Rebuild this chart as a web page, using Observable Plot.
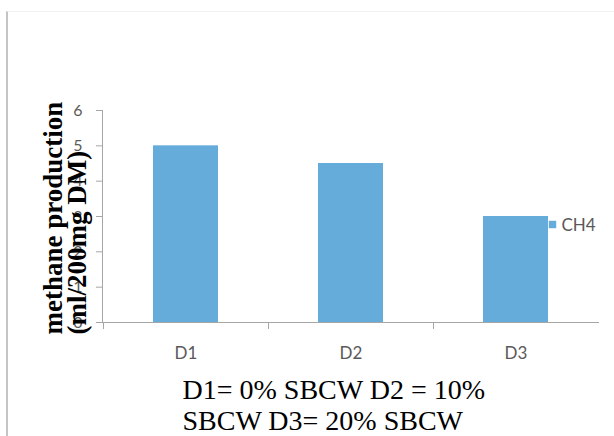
<!DOCTYPE html>
<html>
<head>
<meta charset="utf-8">
<script src="https://cdn.jsdelivr.net/npm/d3@7"></script>
<script src="https://cdn.jsdelivr.net/npm/@observablehq/plot@0.6"></script>
<style>
  html, body { margin: 0; padding: 0; background: #fff; }
  #wrap { position: relative; width: 614px; height: 436px; overflow: hidden; }
  #border { position: absolute; left: 6px; top: 11px; width: 608px; height: 430px;
            border-left: 2px solid #c4c4c4; border-top: 1px solid #f2f2f2; box-sizing: border-box; }
  #chart { position: absolute; left: 0; top: 0; }
  #chart g[aria-label="x-axis tick label"] { font-size: 17px; font-family: Lato, sans-serif; fill: #595959; }
</style>
</head>
<body>
<div id="wrap"><div id="border"></div><div id="chart"></div></div>
<script>
const categories = ["D1", "D2", "D3"];
const values = [5.0, 4.5, 3.0];
const yTicks = [0, 1, 2, 3, 4, 5, 6];
const seriesName = "CH4";
const yTitleLines = ["methane production", "(ml/200mg DM)"];
const captionLines = ["D1= 0% SBCW D2 = 10%", "SBCW D3= 20% SBCW"];

const data = categories.map((c, i) => ({cat: c, value: values[i]}));
const barColor = "#65acdb";
const axisGray = "#a6a6a6";
const labelGray = "#595959";
const half = 82.5;

const titleStyle = {frameAnchor: "bottom-left", rotate: -90, textAnchor: "start", lineAnchor: "middle",
                    dy: 12, fontSize: 27, fontWeight: "bold", fontFamily: "Liberation Serif", fill: "#000"};
const captionStyle = {frameAnchor: "bottom-left", textAnchor: "start", lineAnchor: "top", dx: 80,
                      fontSize: 28, fontFamily: "Liberation Serif", fill: "#000"};

const chart = Plot.plot({
  width: 614,
  height: 436,
  marginLeft: 102,
  marginRight: 16,
  marginTop: 110,
  marginBottom: 114,
  style: {background: "transparent", overflow: "visible"},
  x: {domain: categories, padding: 0, tickSize: 0, tickPadding: 24, label: null},
  y: {domain: [0, 6], axis: null},
  marks: [
    Plot.barY(data, {x: "cat", y: "value", fill: barColor, insetLeft: 50, insetRight: 50}),
    Plot.frame({anchor: "left", stroke: axisGray}),
    Plot.frame({anchor: "bottom", stroke: axisGray}),
    Plot.tickY(yTicks, {y: d => d, x: () => categories[0], insetLeft: -7, insetRight: 165, stroke: axisGray}),
    Plot.text(yTicks, {y: d => d, text: d => String(d), frameAnchor: "left", dx: -20, textAnchor: "end",
                       fontSize: 16, fontFamily: "Lato", fill: labelGray}),
    Plot.ruleX(categories, {x: d => d, y1: 0, y2: 0, dx: -half, insetBottom: -7, stroke: axisGray}),
    Plot.dot([seriesName], {frameAnchor: "left", dx: 450, dy: 8, symbol: "square", r: 4.2, fill: barColor}),
    Plot.text([seriesName], {frameAnchor: "left", dx: 459, dy: 9, textAnchor: "start", fontSize: 17,
                             fontFamily: "Lato", fill: labelGray}),
    Plot.text([yTitleLines[0]], {...titleStyle, dx: -49}),
    Plot.text([yTitleLines[1]], {...titleStyle, dx: -25}),
    Plot.text([captionLines[0]], {...captionStyle, dy: 57}),
    Plot.text([captionLines[1]], {...captionStyle, dy: 88})
  ]
});
document.getElementById("chart").appendChild(chart);
</script>
</body>
</html>
